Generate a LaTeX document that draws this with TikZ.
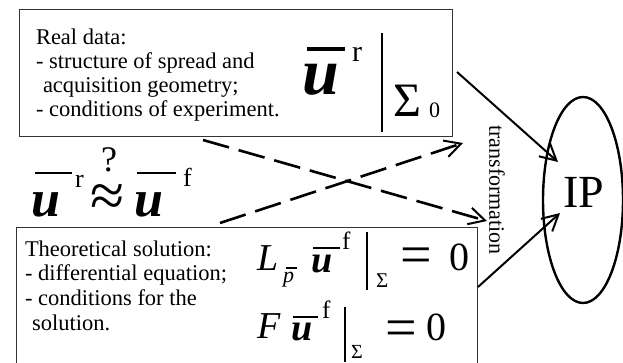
\documentclass[tikz,border=0pt]{standalone}
\usepackage{fontspec}
\setmainfont{Liberation Serif}
\usetikzlibrary{arrows.meta,shapes.geometric}
\newcommand{\fs}[1]{\fontsize{#1}{#1}\selectfont}
\tikzset{
  boxframe/.style={draw=black!80, line width=1pt, rectangle, inner sep=0pt},
  piece/.style={inner sep=0pt, outer sep=0pt, anchor=base west},
  txt/.style={inner sep=0pt, outer sep=0pt, anchor=base west, font=\fs{22.5}},
  ovl/.style={line width=2.8pt},
  vbar/.style={line width=2pt},
  tip/.style={-{Straight Barb[length=16pt,width=17pt,line width=2pt]}},
  solidarrow/.style={tip, line width=2pt},
  dasharrow/.style={tip, line width=2.6pt, dash pattern=on 27pt off 10pt},
}
\begin{document}
\begin{tikzpicture}[x=1pt,y=-1pt]
\useasboundingbox (0,0) rectangle (623,363);
\fill[white] (0,0) rectangle (623,363);
\clip (0,0) rectangle (623,363);

% boxes
\node[boxframe, minimum width=433pt, minimum height=127pt] (real) at (235.5,73.5) {};
\node[boxframe, minimum width=461pt, minimum height=160pt] (theo) at (246.5,308) {};
% ellipse
\node[draw, ellipse, line width=2.4pt, minimum width=80pt, minimum height=206pt, inner sep=0pt] (ip) at (583,200) {};
\node[inner sep=0pt] (iplabel) at (584,192) {\fs{46}IP};

% top box text
\node[txt] (t1) at (36,45) {Real data:};
\node[txt] (t2) at (36,69) {- structure of spread and};
\node[txt] (t3) at (43,93) {acquisition geometry;};
\node[txt] (t4) at (36,117) {- conditions of experiment.};

% top formula
\node[piece] (ur) at (302,95) {\fs{66}\bfseries\itshape u};
\draw[line width=3.6pt] (307,49) -- (345,49);
\node[piece] (ursup) at (352,62) {\fs{30}r};
\draw[vbar] (382,33) -- (382,132);
\node[piece] (sig0) at (393,117) {\fs{48}Σ};
\node[piece] (zero0) at (429,118) {\fs{22}0};

% middle formula
\node[piece] (um1) at (31,217) {\fs{52}\bfseries\itshape u};
\draw[ovl] (35,173) -- (72,173);
\node[piece] (um1sup) at (75,188) {\fs{26}r};
\node[piece] (approx) at (90,217) {\fs{62}\makebox[0pt][l]{\hspace{11pt}\raisebox{45pt}{\fs{36}?}}≈};
\node[piece] (um2) at (134,217) {\fs{52}\bfseries\itshape u};
\draw[ovl] (137,173) -- (176,173);
\node[piece] (um2sup) at (183,187) {\fs{26}f};

% bottom box text
\node[txt] (b1) at (25,256) {Theoretical solution:};
\node[txt] (b2) at (25,280) {- differential equation;};
\node[txt] (b3) at (25,305) {- conditions for the};
\node[txt] (b4) at (32,330) {solution.};

% bottom formula 1
\node[piece] (L) at (257,270) {\fs{38}\itshape L};
\node[piece] (p) at (283,282) {\fs{22}\itshape p};
\draw[line width=1.3pt] (286,268) -- (297,268);
\node[piece] (uf1) at (311,272) {\fs{38}\bfseries\itshape u};
\draw[ovl] (313,248) -- (340,248);
\node[piece] (f1) at (342,250) {\fs{25}f};
\draw[vbar] (367,232) -- (367,290);
\node[piece] (sig1) at (376,287) {\fs{21}Σ};
\node[piece] (eq1) at (400,273) {\fs{56}=};
\node[piece] (z1) at (449,270) {\fs{40}0};

% bottom formula 2
\node[piece] (F) at (257,338) {\fs{38}\itshape F};
\node[piece] (uf2) at (291,340) {\fs{38}\bfseries\itshape u};
\draw[ovl] (293,317) -- (318,317);
\node[piece] (f2) at (322,318) {\fs{25}f};
\draw[vbar] (345,307) -- (345,362);
\node[piece] (sig2) at (351,358) {\fs{20}Σ};
\node[piece] (eq2) at (385,346) {\fs{56}=};
\node[piece] (z2) at (426,340) {\fs{40}0};

% transformation label
\node[inner sep=0pt, rotate=-90] (trans) at (497,190) {\fs{22}transformation};

% connectors
\coordinate (s1) at (457,72);
\coordinate (e1) at (558,162);
\coordinate (s2) at (478,287);
\coordinate (e2) at (560,213);
\coordinate (d1s) at (203,140);
\coordinate (d1e) at (487,221);
\coordinate (d2s) at (220,223);
\coordinate (d2e) at (463,143);
\draw[solidarrow] (s1) -- (e1);
\draw[solidarrow] (s2) -- (e2);
\draw[dasharrow] (d1s) -- (d1e);
\draw[dasharrow] (d2s) -- (d2e);
\end{tikzpicture}
\end{document}
